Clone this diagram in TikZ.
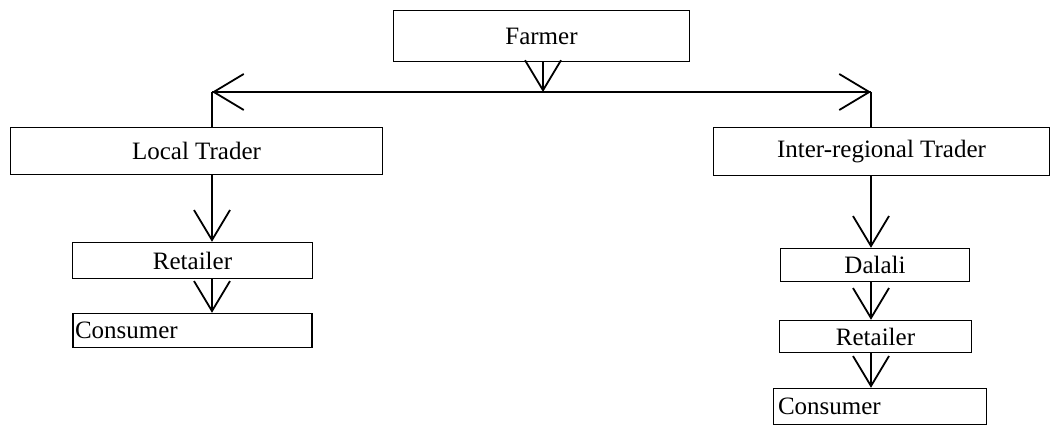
\documentclass[tikz,border=0pt]{standalone}
\usepackage{fontspec}
\setmainfont{Liberation Serif}
\usetikzlibrary{arrows.meta}
\begin{document}
\begin{tikzpicture}[x=1pt,y=-1pt,
  box/.style={draw=black,line width=1.4pt,rectangle,inner sep=0pt,font=\fontsize{25}{28}\selectfont},
  arr/.style={line width=1.8pt,-{Straight Barb[length=30pt,width=36pt,line width=1.8pt]}},
  ln/.style={line width=1.8pt}]
\useasboundingbox (0,0) rectangle (1053,433);
\node[box,minimum width=296pt,minimum height=51pt] (farmer) at (541.5,36) {Farmer};
\node[box,minimum width=372pt,minimum height=47pt] (lt) at (196.5,151) {Local Trader};
\node[box,minimum width=240pt,minimum height=36pt] (rl) at (192.5,260.5) {Retailer};
\node[box,minimum height=34pt,text width=235pt,align=left,inner xsep=2pt] (cl) at (192.5,330.5) {Consumer};
\node[box,minimum width=336pt,minimum height=48pt] (irt) at (881.5,151.5) {Inter-regional Trader};
\node[box,minimum width=189pt,minimum height=33pt] (dal) at (875,265) {Dalali};
\node[box,minimum width=192pt,minimum height=32pt] (rr) at (875.5,336.5) {Retailer};
\node[box,minimum height=36pt,text width=204pt,align=left,inner xsep=4.5pt] (cr) at (880,406.5) {Consumer};
\coordinate (jc) at (543,92);
\coordinate (jl) at (212,92);
\coordinate (jr) at (871,92);
\draw[arr] (farmer.south -| jc) -- (jc);
\draw[ln] (jl) -- (jr);
\draw[arr] (jc) -- (jl);
\draw[arr] (jc) -- (jr);
\draw[ln] (jl) -- (lt.north -| jl);
\draw[ln] (jr) -- (irt.north -| jr);
\draw[arr] (lt.south -| jl) -- (rl.north -| jl);
\draw[arr] (rl.south -| jl) -- (cl.north -| jl);
\draw[arr] (irt.south -| jr) -- (dal.north -| jr);
\draw[arr] (dal.south -| jr) -- (rr.north -| jr);
\draw[arr] (rr.south -| jr) -- (cr.north -| jr);
\end{tikzpicture}
\end{document}
